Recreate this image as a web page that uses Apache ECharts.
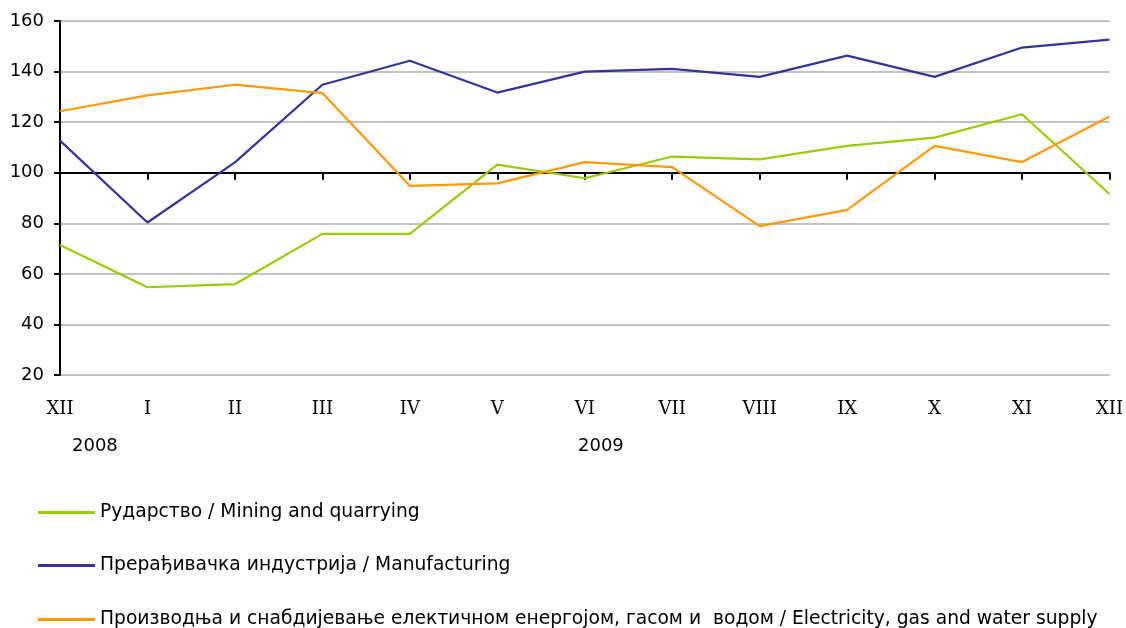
<!DOCTYPE html>
<html>
<head>
<meta charset="utf-8">
<script src="https://cdn.jsdelivr.net/npm/echarts@6/dist/echarts.min.js"></script>
<style>html,body{margin:0;padding:0;background:#fff}#c{width:1126px;height:628px}</style>
</head>
<body>
<div id="c"></div>
<script>
const months = ['XII','I','II','III','IV','V','VI','VII','VIII','IX','X','XI','XII'];
const years = ['2008', '2009'];
const mining = [71.4, 54.7, 55.9, 75.8, 75.8, 103.2, 97.8, 106.4, 105.3, 110.6, 113.9, 123.1, 91.6];
const manufacturing = [112.7, 80.3, 104.1, 134.8, 144.3, 131.7, 140.0, 141.1, 137.9, 146.3, 137.9, 149.5, 152.6];
const electricity = [124.3, 130.6, 134.8, 131.5, 94.8, 95.8, 104.2, 102.2, 78.9, 85.3, 110.6, 104.2, 122.2];
const seriesNames = [
  'Рударство / Mining and quarrying',
  'Прерађивачка индустрија / Manufacturing',
  'Производња и снабдијевање електичном енергојом, гасом и  водом / Electricity, gas and water supply'
];
const yTicks = {min: 20, max: 160, interval: 20};

const font = '"DejaVu Sans", sans-serif';
const serif = '"DejaVu Serif", serif';
const chart = echarts.init(document.getElementById('c'));
const mk = (name, data, color) => ({
  name, type: 'line', data, xAxisIndex: 2, yAxisIndex: 0,
  symbol: 'none', lineStyle: {color, width: 2.2}, itemStyle: {color}, z: 5
});
const legendRow = (name, top) => ({
  orient: 'vertical', left: 38, top, itemWidth: 57, itemHeight: 3, itemGap: 5,
  icon: 'rect', padding: 0,
  textStyle: {fontFamily: font, fontSize: 18.7, color: '#000'},
  data: [name]
});
chart.setOption({
  animation: false,
  grid: {left: 60, right: 16, top: 21, bottom: 253},
  legend: [
    legendRow(seriesNames[0], 503),
    legendRow(seriesNames[1], 556),
    legendRow(seriesNames[2], 610)
  ],
  xAxis: [
    {type: 'category', data: months, boundaryGap: false,
     axisLine: {onZero: true, onZeroAxisIndex: 1, lineStyle: {color: '#000', width: 2}},
     axisTick: {show: true, length: 7, lineStyle: {color: '#000', width: 2}},
     axisLabel: {show: false}, splitLine: {show: false}},
    {type: 'category', data: months, boundaryGap: false,
     axisLine: {show: false, onZero: true, onZeroAxisIndex: 1},
     axisTick: {show: true, inside: true, length: 7, lineStyle: {color: '#000', width: 2}},
     axisLabel: {show: false}, splitLine: {show: false}},
    {type: 'category', data: months, boundaryGap: false, position: 'bottom',
     axisLine: {show: false, onZero: false}, axisTick: {show: false},
     axisLabel: {margin: 25, fontFamily: serif, fontSize: 18, color: '#000'},
     splitLine: {show: false}}
  ],
  yAxis: [
    {type: 'value', min: yTicks.min, max: yTicks.max, interval: yTicks.interval,
     axisLine: {show: true, lineStyle: {color: '#000', width: 2}},
     axisTick: {show: true, length: 6, lineStyle: {color: '#000', width: 2}},
     axisLabel: {fontFamily: font, fontSize: 18, color: '#000', margin: 16},
     splitLine: {lineStyle: {color: '#c0c0c0', width: 2}}},
    {type: 'value', min: yTicks.min - 100, max: yTicks.max - 100, show: false}
  ],
  graphic: [
    {type: 'text', left: 72, top: 437, style: {text: years[0], font: '18px ' + font, fill: '#000'}},
    {type: 'text', left: 578, top: 437, style: {text: years[1], font: '18px ' + font, fill: '#000'}}
  ],
  series: [
    mk(seriesNames[0], mining, '#99cc00'),
    mk(seriesNames[1], manufacturing, '#333399'),
    mk(seriesNames[2], electricity, '#ff9900')
  ]
});
</script>
</body>
</html>
